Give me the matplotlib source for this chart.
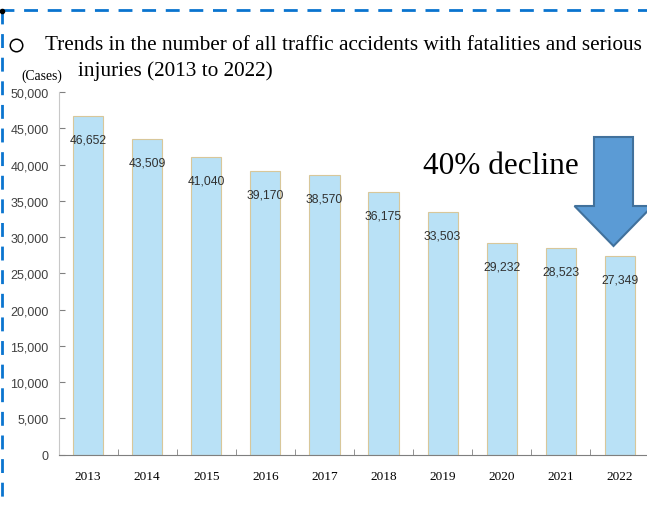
import matplotlib.pyplot as plt
import numpy as np
from matplotlib.patches import Polygon
from matplotlib.lines import Line2D
from matplotlib.ticker import FixedLocator

years = ["2013", "2014", "2015", "2016", "2017", "2018", "2019", "2020", "2021", "2022"]
accidents = [46652, 43509, 41040, 39170, 38570, 36175, 33503, 29232, 28523, 27349]
y_ticks = [0, 5000, 10000, 15000, 20000, 25000, 30000, 35000, 40000, 45000, 50000]

BAR_COLOR = "#b9e1f6"
BAR_EDGE = "#d8c79a"
BORDER_BLUE = "#0a74cf"
SERIF = ["Liberation Serif", "DejaVu Serif"]
SANS = ["Liberation Sans", "DejaVu Sans"]

W, H = 647, 506
fig = plt.figure(figsize=(W / 100, H / 100), dpi=100)

ax = fig.add_axes([58.5 / W, 50.3 / H, 591 / W, 362.7 / H])
x = np.arange(len(years))
ax.bar(x, accidents, width=0.51, color=BAR_COLOR, edgecolor=BAR_EDGE, linewidth=0.8)
ax.set_xlim(-0.5, len(years) - 0.5)
ax.set_ylim(0, 50000)

for xi, v in zip(x, accidents):
    ax.annotate(f"{v:,}", (xi, v), xytext=(0, -17), textcoords="offset points",
                ha="center", va="center", fontsize=8.7, family=SANS, color="#303030")

ax.set_yticks(y_ticks)
ax.set_yticklabels([f"{t:,}" for t in y_ticks], family=SANS, fontsize=9, color="#404040")
ax.set_xticks(x)
ax.set_xticklabels(years, family=SERIF, fontsize=9.5)
ax.tick_params(axis="x", length=0, pad=11)
ax.xaxis.set_minor_locator(FixedLocator(x[:-1] + 0.5))
ax.tick_params(axis="x", which="minor", direction="in", length=4, color="#808080")
ax.tick_params(axis="y", direction="in", length=4, color="#808080", pad=7)

for s in ("top", "right"):
    ax.spines[s].set_visible(False)
ax.spines["left"].set_color("#c8c8c8")
ax.spines["bottom"].set_color("#7f7f7f")

# dashed frame along the top and left edges
fig.add_artist(Line2D([0, 1], [1 - 11 / H, 1 - 11 / H], transform=fig.transFigure,
                      color=BORDER_BLUE, lw=2, dashes=(5, 3.5)))
fig.add_artist(Line2D([1.5 / W, 1.5 / W], [1 - 11 / H, 0], transform=fig.transFigure,
                      color=BORDER_BLUE, lw=2, dashes=(5, 3.5)))
fig.add_artist(Line2D([1.5 / W], [1 - 12 / H], transform=fig.transFigure,
                      marker="o", markersize=3, color="black"))

# bullet circle before the title
fig.add_artist(Line2D([16 / W], [1 - 46 / H], transform=fig.transFigure, marker="o",
                      markersize=9, markerfacecolor="none", markeredgecolor="black", mew=1.1))
fig.text(45 / W, 1 - 46 / H, "Trends in the number of all traffic accidents with fatalities and serious",
         family=SERIF, fontsize=15.3, va="center")
fig.text(78 / W, 1 - 71 / H, "injuries (2013 to 2022)", family=SERIF, fontsize=15.3, va="center")
fig.text(21 / W, 1 - 76 / H, "(Cases)", family=SERIF, fontsize=9.8, va="center")

fig.text(423 / W, 1 - 166 / H, "40% decline", family=SERIF, fontsize=22.5, va="center")

# big down arrow
cx = 613.5
pts = [(cx - 19.5, 138), (cx + 19.5, 138), (cx + 19.5, 207), (cx + 39, 207),
       (cx, 247), (cx - 39, 207), (cx - 19.5, 207)]
arrow = Polygon([(px / W, 1 - py / H) for px, py in pts], closed=True,
                transform=fig.transFigure, facecolor="#5b9bd5", edgecolor="#41719c", lw=1.5)
fig.add_artist(arrow)

fig.savefig("out.png", dpi=100)
